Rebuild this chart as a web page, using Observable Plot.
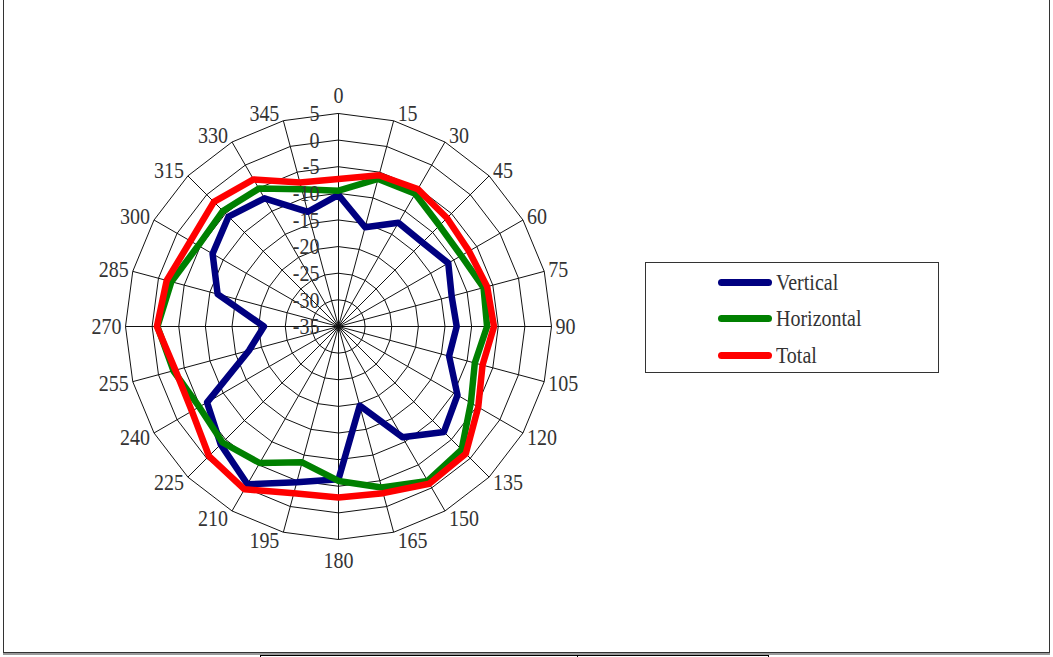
<!DOCTYPE html>
<html><head><meta charset="utf-8">
<script src="https://cdn.jsdelivr.net/npm/d3@7"></script>
<script src="https://cdn.jsdelivr.net/npm/@observablehq/plot@0.6"></script>
<style>
body{margin:0;background:#fff;}
#wrap{position:relative;width:1053px;height:657px;overflow:hidden;font-family:"Liberation Serif",serif;}
#chart{position:absolute;left:0;top:0;}
#frame{position:absolute;left:3px;top:-2px;width:1045px;height:653px;border:1px solid #333;box-shadow:0 2px 0 #999;}
#under{position:absolute;left:260px;top:655px;width:507px;height:6px;border-top:1px solid #000;border-left:1px solid #000;border-right:1px solid #000;}
#under div{position:absolute;left:316px;top:0;width:1px;height:6px;background:#000;}
#legend{position:absolute;left:645px;top:262px;width:292px;height:109px;border:1px solid #333;background:#fff;}
.item{position:absolute;left:72px;height:24px;display:flex;align-items:center;font-size:20px;color:#333;}
.item span{display:inline-block;transform:scaleY(1.2);}
.sw{width:54px;height:7px;border-radius:4px;margin-right:4px;}
</style></head><body>
<div id="wrap"><div id="frame"></div><div id="under"><div></div></div><div id="chart"></div><div id="legend"></div></div>
<script>
const angles = [0,15,30,45,60,75,90,105,120,135,150,165,180,195,210,225,240,255,270,285,300,315,330,345];
const angleLabels = ["0","15","30","45","60","75","90","105","120","135","150","165","180","195","210","225","240","255","270","285","300","315","330","345"];
const vertical   = [-10.3,-15.7,-12.5,-12.7,-11.2,-13.0,-12.8,-13.5,-9.2,-7.0,-11.0,-19.6,-6.3,-4.7,-0.8,-3.7,-6.5,-17.6,-21.0,-11.5,-7.7,-5.8,-7.2,-12.7];
const horizontal = [-9.5,-6.3,-6.2,-8.2,-8.4,-6.8,-7.1,-8.5,-6.3,-2.3,-1.5,-3.7,-6.0,-8.6,-5.4,-4.2,-4.8,-2.9,-1.0,-2.5,-4.6,-4.3,-5.1,-8.3];
const total      = [-7.3,-5.6,-5.2,-6.2,-6.7,-6.1,-5.8,-7.0,-4.7,-1.2,-0.9,-2.6,-2.9,-2.6,0.3,-0.6,-3.2,-3.3,-0.9,-1.6,-2.9,-1.9,-3.1,-7.0];
const radialTicks = [-35,-30,-25,-20,-15,-10,-5,0,5];
const seriesNames = ["Vertical","Horizontal","Total"];
const seriesColors = ["#000080","#008000","#ff0000"];

const rMin = radialTicks[0], rMax = radialTicks[radialTicks.length-1];
const R = rMax - rMin;
const cx = 338, cy = 326, Rpx = 213, k = Rpx / R;
const rad = a => a * Math.PI / 180;
const px = (v, a) => (v - rMin) * Math.sin(rad(a));
const py = (v, a) => (v - rMin) * Math.cos(rad(a));

const seriesValues = [vertical, horizontal, total];
const rows = seriesNames.flatMap((s, i) => seriesValues[i].map((v, j) => ({series: s, angle: angles[j], value: v})));
const grid = radialTicks.filter(t => t > rMin).flatMap(t => angles.map(a => ({ring: t, angle: a})));
const labels = angles.map((a, i) => ({angle: a, text: angleLabels[i]}));
const right = labels.filter(d => d.angle > 0 && d.angle < 180);
const left = labels.filter(d => d.angle > 180);
const mid = labels.filter(d => d.angle === 0 || d.angle === 180);

const chart = Plot.plot({
  width: 1053, height: 657, margin: 0,
  x: {domain: [-R, R], range: [cx - Rpx, cx + Rpx], axis: null},
  y: {domain: [-R, R], range: [cy + Rpx, cy - Rpx], axis: null},
  color: {domain: seriesNames, range: seriesColors},
  style: {fontFamily: "'Liberation Serif', serif", fontSize: "20px", background: "transparent", overflow: "visible"},
  marks: [
    Plot.line(grid, {x: d => px(d.ring, d.angle), y: d => py(d.ring, d.angle), z: "ring", curve: "linear-closed", stroke: "#111", strokeWidth: 1}),
    Plot.link(angles, {x1: 0, y1: 0, x2: a => px(rMax, a), y2: a => py(rMax, a), stroke: "#111", strokeWidth: 1}),
    Plot.line(rows, {x: d => px(d.value, d.angle), y: d => py(d.value, d.angle), z: "series", stroke: "series", curve: "linear-closed", strokeWidth: 6.5, strokeLinejoin: "round"}),
    Plot.text(radialTicks, {x: 0, y: t => t - rMin, text: t => String(t), textAnchor: "end", dx: -19, fill: "#333"}),
    Plot.text(right, {x: d => px(rMax, d.angle) + 4 / k, y: d => py(rMax, d.angle) + Math.cos(rad(d.angle)) * 8 / k, text: "text", textAnchor: "start", fill: "#333"}),
    Plot.text(left, {x: d => px(rMax, d.angle) - 4 / k, y: d => py(rMax, d.angle) + Math.cos(rad(d.angle)) * 8 / k, text: "text", textAnchor: "end", fill: "#333"}),
    Plot.text(mid, {x: d => px(rMax, d.angle), y: d => py(rMax, d.angle) + (d.angle === 0 ? 18 : -21) / k, text: "text", textAnchor: "middle", fill: "#333"})
  ]
});
chart.querySelectorAll("text").forEach(t => {
  const tr = t.getAttribute("transform");
  if (tr) t.setAttribute("transform", tr + " scale(1,1.2)");
});
document.getElementById("chart").append(chart);

const legend = document.getElementById("legend");
seriesNames.forEach((s, i) => {
  const it = document.createElement("div");
  it.className = "item";
  it.style.top = (7 + i * 36.5) + "px";
  const sw = document.createElement("div");
  sw.className = "sw";
  sw.style.background = seriesColors[i];
  const label = document.createElement("span");
  label.textContent = s;
  it.append(sw, label);
  legend.append(it);
});
</script>
</body></html>
